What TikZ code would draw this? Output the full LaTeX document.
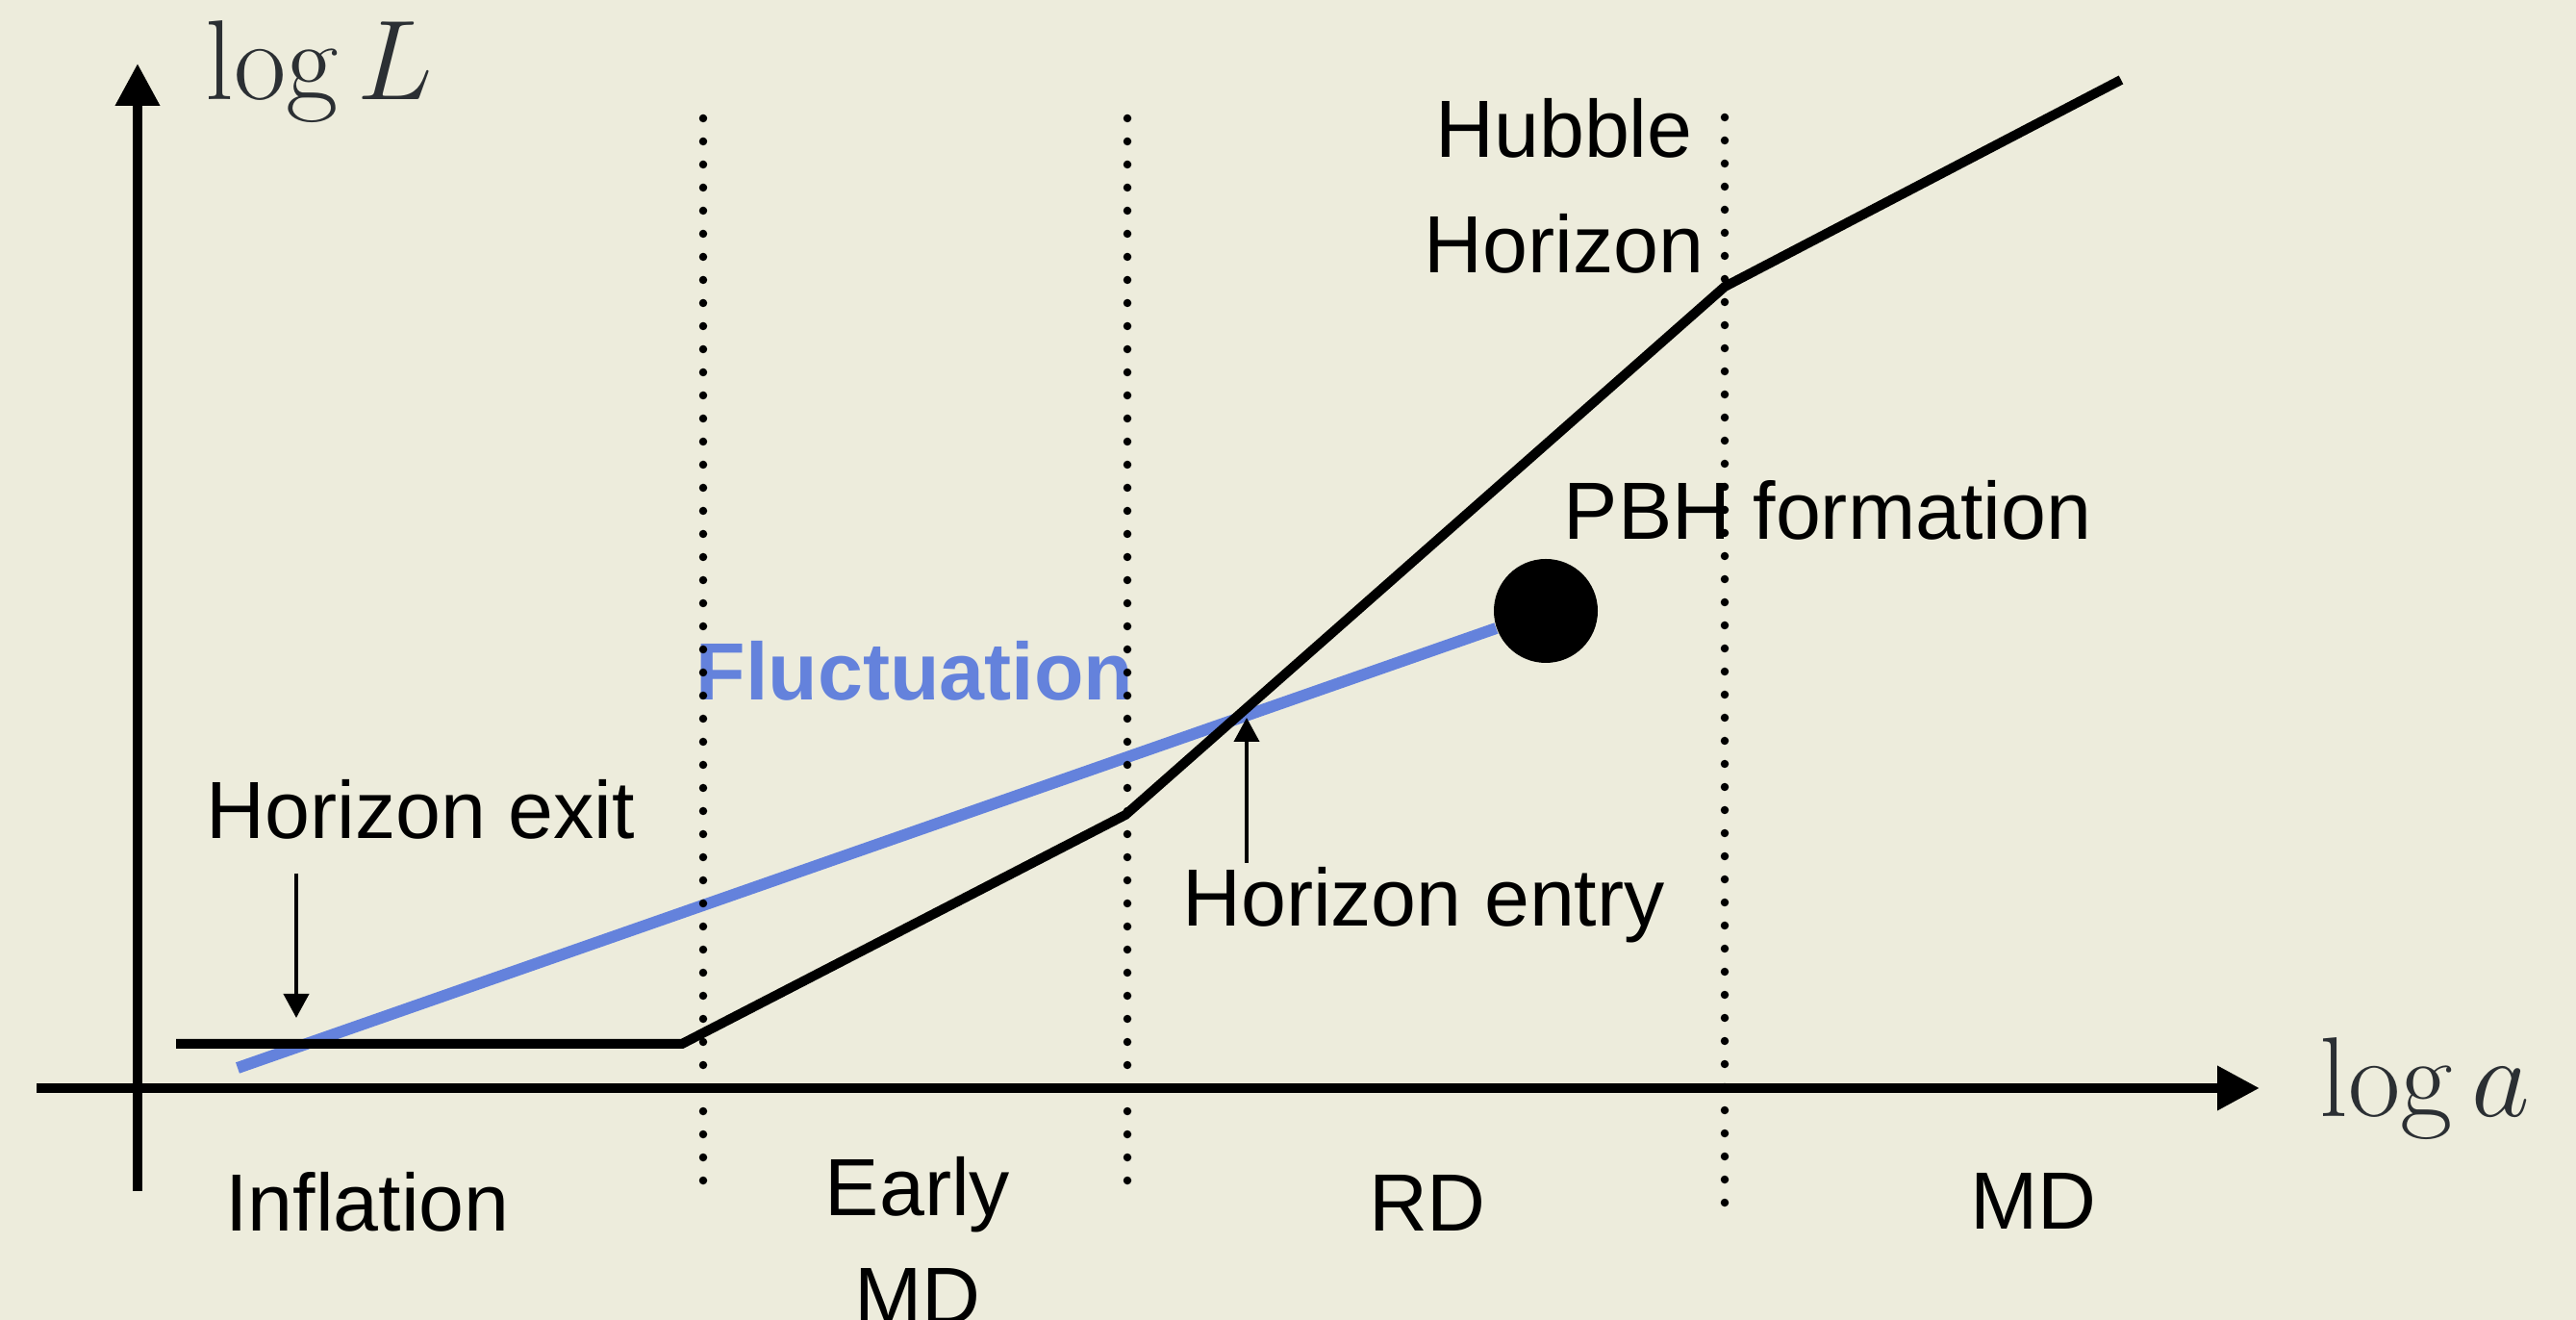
\RequirePackage{fix-cm}
\documentclass[tikz,border=0pt]{standalone}
\usepackage{fontspec}
\newfontfamily\labelfont{Liberation Sans}
\usepackage{xcolor}
\usetikzlibrary{arrows.meta, calc}

\definecolor{paper}{RGB}{237,236,220}
\definecolor{flucblue}{RGB}{100,130,220}
\definecolor{axisgray}{RGB}{43,47,51}

\begin{document}
\begin{tikzpicture}[
    lbl/.style={inner sep=0pt, font=\labelfont\fontsize{24}{33}\selectfont},
    lbltwo/.style={lbl, align=center, anchor=north},
    axislbl/.style={inner sep=0pt, text=axisgray, font=\fontsize{33.6}{40}\selectfont, anchor=base west},
    axis/.style={line width=0.1cm, -{Triangle[length=0.44cm, width=0.44cm]}},
    horizon/.style={line width=0.1cm},
    fluc/.style={line width=0.12cm, flucblue},
    epoch/.style={line width=0.085cm, line cap=round, dash pattern=on 0pt off 0.24cm},
    pointer/.style={line width=0.04cm, -{Triangle[length=0.25cm, width=0.26cm]}}
]
% Background
\useasboundingbox (0,0) rectangle (26.78,13.72);
\fill[paper] (0,0) rectangle (26.78,13.72);

% Axes
\coordinate (ybot) at (1.43,1.34);
\coordinate (ytop) at (1.43,13.06);
\coordinate (xleft) at (0.38,2.41);
\coordinate (xright) at (23.49,2.41);
\draw[axis] (ybot) -- (ytop);
\draw[axis] (xleft) -- (xright);
\node[axislbl] (ylbl) at (2.13,12.68) {$\log L$};
\node[axislbl] (xlbl) at (24.11,2.11) {$\log a$};

% Fluctuation
\node[circle, fill=black, inner sep=0pt, minimum size=1.08cm] (pbh) at (16.07,7.37) {};
\coordinate (flucstart) at (2.47,2.62);
\draw[fluc] (flucstart) -- (pbh);
\node[lbl, anchor=base, text=flucblue, font=\labelfont\bfseries\fontsize{24}{33}\selectfont] (fluclbl) at (9.51,6.44) {Fluctuation};

% Hubble horizon
\coordinate (h0) at (1.83,2.87);
\coordinate (h1) at (7.09,2.87);
\coordinate (h2) at (11.70,5.25);
\coordinate (h3) at (17.93,10.74);
\coordinate (h4) at (22.05,12.89);
\draw[horizon] (h0) -- (h1) -- (h2) -- (h3) -- (h4);

% Labels
\node[lbltwo] (hubblelbl) at (16.26,12.70) {Hubble\\[1pt]Horizon};
\node[lbl, anchor=base] (pbhlbl) at (19.00,8.11) {PBH formation};
\node[lbl, anchor=base] (exitlbl) at (4.375,5.00) {Horizon exit};
\node[lbl, anchor=base] (entrylbl) at (14.80,4.09) {Horizon entry};

% Pointers
\coordinate (exittail) at (3.08,4.64);
\coordinate (exittip) at (3.08,3.14);
\coordinate (entrytail) at (12.96,4.75);
\coordinate (entrytip) at (12.96,6.26);
\draw[pointer] (exittail) -- (exittip);
\draw[pointer] (entrytail) -- (entrytip);

% Epochs
\node[lbl, anchor=base] (inflbl) at (3.82,0.92) {Inflation};
\node[lbltwo] (earlylbl) at (9.54,1.70) {Early\\[-1pt]MD};
\node[lbl, anchor=base] (rdlbl) at (14.84,0.92) {RD};
\node[lbl, anchor=base] (mdlbl) at (21.14,0.94) {MD};

% Epoch boundaries
\draw[epoch] (7.31,12.49) -- (7.31,1.33);
\draw[epoch] (11.72,12.49) -- (11.72,1.33);
\draw[epoch] (17.93,12.50) -- (17.93,1.18);
\end{tikzpicture}
\end{document}
